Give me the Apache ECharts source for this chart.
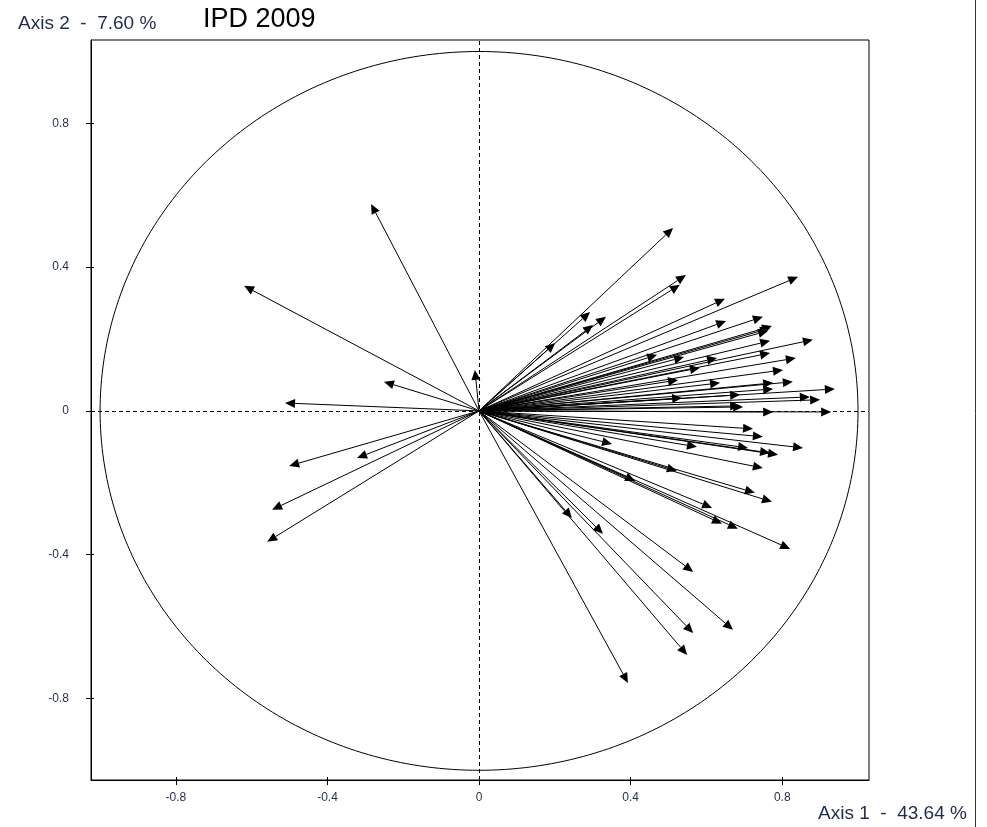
<!DOCTYPE html>
<html>
<head>
<meta charset="utf-8">
<script src="https://cdn.jsdelivr.net/npm/echarts@6/dist/echarts.min.js"></script>
<style>
html,body{margin:0;padding:0;background:#fff;}
#chart{width:987px;height:827px;}
</style>
</head>
<body>
<div id="chart"></div>
<script>
// Tick values shown on both axes
var tickValues = [-0.8, -0.4, 0, 0.4, 0.8];

// Variable vectors (end points of arrows from the origin)
var leftArrows = [
  [-0.285, 0.576], [-0.620, 0.348], [-0.251, 0.081], [-0.512, 0.022],
  [-0.011, 0.114], [-0.501, -0.153], [-0.322, -0.131], [-0.546, -0.275],
  [-0.559, -0.364]
];
var upperRightArrows = [
  [0.512, 0.509], [0.546, 0.378], [0.530, 0.351], [0.842, 0.373],
  [0.293, 0.275], [0.335, 0.262], [0.301, 0.239], [0.201, 0.189],
  [0.649, 0.312], [0.652, 0.250], [0.749, 0.262], [0.773, 0.236],
  [0.763, 0.223], [0.768, 0.230], [0.768, 0.195], [0.881, 0.198],
  [0.768, 0.161], [0.836, 0.147], [0.628, 0.147], [0.541, 0.150],
  [0.470, 0.156], [0.802, 0.114], [0.636, 0.078], [0.525, 0.086],
  [0.776, 0.078], [0.828, 0.081], [0.776, 0.061], [0.939, 0.061],
  [0.873, 0.039], [0.900, 0.031], [0.536, 0.036], [0.689, 0.014],
  [0.929, -0.003], [0.776, -0.003], [0.697, 0.011], [0.583, 0.120],
  [0.689, 0.045]
];
var lowerRightArrows = [
  [0.723, -0.050], [0.749, -0.072], [0.855, -0.103], [0.575, -0.100],
  [0.710, -0.103], [0.768, -0.117], [0.789, -0.122], [0.749, -0.159],
  [0.522, -0.167], [0.351, -0.092], [0.412, -0.195], [0.728, -0.228],
  [0.773, -0.253], [0.615, -0.270], [0.641, -0.314], [0.683, -0.328],
  [0.821, -0.384], [0.327, -0.342], [0.245, -0.298], [0.565, -0.448],
  [0.565, -0.618], [0.549, -0.679], [0.393, -0.757], [0.670, -0.609]
];
var circleRadius = 1;

var allArrows = leftArrows.concat(upperRightArrows, lowerRightArrows);
var labelColor = '#1f2d4d';

var chart = echarts.init(document.getElementById('chart'));

function arrowItem(params, api) {
  var p0 = api.coord([0, 0]);
  var p1 = api.coord([api.value(0), api.value(1)]);
  var dx = p1[0] - p0[0], dy = p1[1] - p0[1];
  var len = Math.sqrt(dx * dx + dy * dy) || 1;
  var ux = dx / len, uy = dy / len;
  var hl = 10, hw = 4.5;
  var bx = p1[0] - ux * hl, by = p1[1] - uy * hl;
  return {
    type: 'group',
    children: [
      { type: 'line', shape: { x1: p0[0], y1: p0[1], x2: bx, y2: by },
        style: { stroke: '#000', lineWidth: 1 } },
      { type: 'polygon', shape: { points: [[p1[0], p1[1]], [bx - uy * hw, by + ux * hw], [bx + uy * hw, by - ux * hw]] },
        style: { fill: '#000' } }
    ]
  };
}

function circleItem(params, api) {
  var r = api.value(0);
  var pts = [];
  for (var i = 0; i <= 360; i++) {
    var a = i * Math.PI / 180;
    pts.push(api.coord([r * Math.cos(a), r * Math.sin(a)]));
  }
  return { type: 'polyline', shape: { points: pts }, style: { stroke: '#000', lineWidth: 1, fill: null } };
}

var labelStyle = { customValues: tickValues, color: labelColor, fontSize: 12, fontFamily: 'Liberation Sans, Arial, sans-serif',
  formatter: function (v) { return v === 0 ? '0' : String(Math.round(v * 10) / 10); } };

function mainAxis(min, max, pos, margin) {
  return {
    type: 'value', min: min, max: max, position: pos,
    axisLine: { show: true, onZero: false, lineStyle: { color: '#000', width: 1 } },
    axisTick: { show: true, length: 5, customValues: tickValues, lineStyle: { color: '#000' } },
    axisLabel: Object.assign({}, labelStyle, { margin: margin }),
    splitLine: { show: false }
  };
}
function innerTickAxis(min, max, pos) {
  return {
    type: 'value', min: min, max: max, position: pos,
    axisLine: { show: false, onZero: false },
    axisTick: { show: true, inside: true, length: 3, customValues: tickValues, lineStyle: { color: '#000' } },
    axisLabel: { show: false },
    splitLine: { show: false }
  };
}

var option = {
  animation: false,
  backgroundColor: '#fff',
  grid: { left: 91, right: 118, top: 40, bottom: 47, show: true, borderColor: '#000', borderWidth: 1 },
  xAxis: [ mainAxis(-1.024, 1.029, 'bottom', 12), innerTickAxis(-1.024, 1.029, 'bottom') ],
  yAxis: [ mainAxis(-1.027, 1.032, 'left', 22), innerTickAxis(-1.027, 1.032, 'left') ],
  series: [
    {
      type: 'line', data: [], silent: true,
      markLine: {
        silent: true, symbol: ['none', 'none'], label: { show: false },
        lineStyle: { type: [4, 3], color: '#000', width: 1 },
        data: [{ xAxis: 0 }, { yAxis: 0 }]
      }
    },
    { type: 'custom', renderItem: circleItem, data: [[circleRadius]], silent: true, clip: false },
    { type: 'custom', renderItem: arrowItem, data: allArrows, silent: true, clip: false }
  ],
  graphic: [
    { type: 'text', left: 18, top: 14, style: { text: 'Axis 2  -  7.60 %', font: '19px "Liberation Sans", Arial, sans-serif', fill: labelColor } },
    { type: 'text', left: 203, top: 6, style: { text: 'IPD 2009', font: '27px "Liberation Sans", Arial, sans-serif', fill: '#000' } },
    { type: 'text', left: 818, top: 804, style: { text: 'Axis 1  -  43.64 %', font: '19px "Liberation Sans", Arial, sans-serif', fill: labelColor } },
    { type: 'line', shape: { x1: 975.5, y1: 0, x2: 975.5, y2: 827 }, style: { stroke: '#333', lineWidth: 1 } }
  ]
};
chart.setOption(option);
</script>
</body>
</html>
